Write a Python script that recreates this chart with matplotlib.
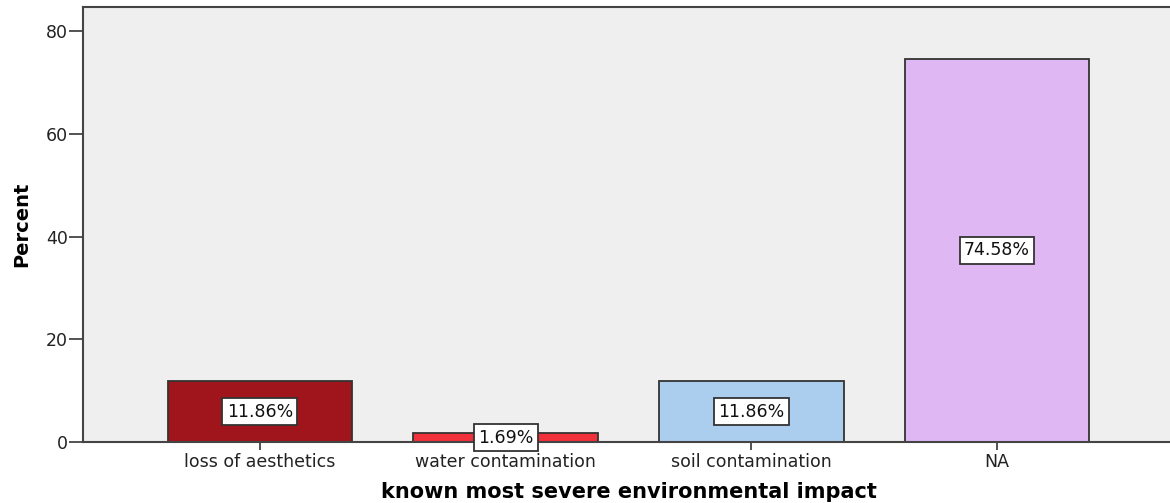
import matplotlib
matplotlib.use("Agg")
import matplotlib.pyplot as plt

categories = ["loss of aesthetics", "water contamination", "soil contamination", "NA"]
percents = [11.86, 1.69, 11.86, 74.58]
bar_colors = ["#A0151B", "#F0303A", "#ABCDEE", "#DFB8F3"]
yticks = [0, 20, 40, 60, 80]

plt.rcParams['font.family'] = ['DejaVu Sans']

fig = plt.figure(figsize=(11.7, 5.03), dpi=100)
ax = fig.add_axes([83/1170, 1 - 442/503, (1174 - 83)/1170, (442 - 7)/503])
ax.set_facecolor("#EFEFEF")

x = list(range(len(categories)))
ax.bar(x, percents, width=0.75, color=bar_colors, edgecolor="#333333", linewidth=1.3, zorder=2)

for xi, v in zip(x, percents):
    ax.text(xi, v / 2, f"{v:.2f}%", ha="center", va="center", fontsize=12.5, color="#111111",
            bbox=dict(boxstyle="square,pad=0.25", facecolor="white", edgecolor="#333333", linewidth=1.3),
            zorder=3)

ax.set_xlim(-0.72, 3.72)
ax.set_ylim(0, 84.7)
ax.set_xticks(x)
ax.set_xticklabels(categories, fontsize=12.5, color="#222222")
ax.set_yticks(yticks)
ax.set_yticklabels([str(t) for t in yticks], fontsize=12.5, color="#222222")
ax.tick_params(axis="y", direction="out", length=10, width=1.3, color="#444444", pad=1)
ax.tick_params(axis="x", direction="out", length=6, width=1.3, color="#444444", pad=2)

for s in ["left", "top", "bottom"]:
    ax.spines[s].set_color("#444444")
    ax.spines[s].set_linewidth(1.5)
ax.spines["right"].set_visible(False)

ax.set_ylabel("Percent", fontsize=14, fontweight="bold", labelpad=10)
ax.set_xlabel("known most severe environmental impact", fontsize=15, fontweight="bold", labelpad=8)

fig.savefig("out.png", dpi=100)
